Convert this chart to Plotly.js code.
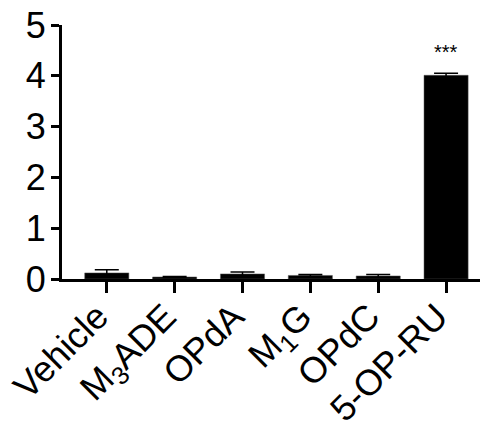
<!DOCTYPE html>
<html>
<head>
<meta charset="utf-8">
<script src="https://cdn.plot.ly/plotly-3.0.1.min.js"></script>
<style>html,body{margin:0;padding:0;background:#fff;}#chart{width:486px;height:421px;}</style>
</head>
<body>
<div id="chart"></div>
<script>
var categories = ['Vehicle', 'M<sub>3</sub>ADE', 'OPdA', 'M<sub>1</sub>G', 'OPdC', '5-OP-RU'];
var values = [0.12, 0.04, 0.10, 0.07, 0.06, 4.01];
var errors = [0.06, 0.01, 0.04, 0.02, 0.03, 0.04];
var sigLabel = '***';
var sigIndex = 5;

var font = 'Liberation Sans, Arial, Helvetica, sans-serif';

var trace = {
  type: 'bar',
  x: categories,
  y: values,
  width: 0.65,
  marker: {color: '#000000', line: {color: '#555555', width: 0.5}},
  error_y: {type: 'data', array: errors, visible: true, color: '#000000', thickness: 1.5, width: 12}
};

var layout = {
  width: 486,
  height: 421,
  margin: {l: 62, r: 6, t: 25, b: 142},
  paper_bgcolor: '#ffffff',
  plot_bgcolor: '#ffffff',
  showlegend: false,
  font: {family: font, color: '#000000', size: 35},
  xaxis: {
    type: 'category',
    range: [-0.66, 5.5],
    showline: true, linecolor: '#000000', linewidth: 3,
    ticks: 'outside', ticklen: 11, tickwidth: 3, tickcolor: '#000000',
    tickangle: -45,
    ticklabelstandoff: -12,
    ticklabelshift: -9,
    tickfont: {family: font, size: 36, color: '#000000'},
    showgrid: false, zeroline: false
  },
  yaxis: {
    range: [0, 5],
    tickvals: [0, 1, 2, 3, 4, 5],
    ticktext: ['0', '1', '2', '3', '4', '5'],
    showline: true, linecolor: '#000000', linewidth: 3,
    ticks: 'outside', ticklen: 8, tickwidth: 3, tickcolor: '#000000',
    ticklabelstandoff: -2,
    tickfont: {family: font, size: 36, color: '#000000'},
    showgrid: false, zeroline: false
  },
  annotations: [{
    x: categories[sigIndex], y: values[sigIndex] + errors[sigIndex],
    xref: 'x', yref: 'y', text: sigLabel, showarrow: false,
    yanchor: 'bottom', yshift: 8,
    font: {family: font, size: 20, color: '#000000'}
  }]
};

Plotly.newPlot('chart', [trace], layout, {displayModeBar: false, staticPlot: true});
</script>
</body>
</html>
